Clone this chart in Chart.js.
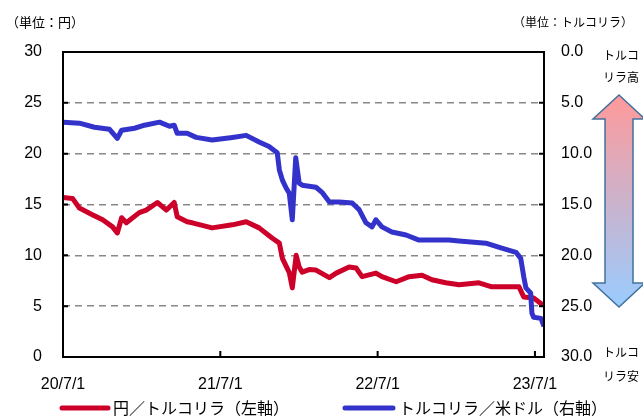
<!DOCTYPE html>
<html lang="ja">
<head>
    <meta charset="UTF-8">
    <title>円/トルコリラ</title>
    <script src="https://cdn.jsdelivr.net/npm/chart.js"></script>
    <style>
        body { margin: 0; background: #fff; }
        #wrap { width: 643px; height: 419px; }
    </style>
</head>
<body>
<div id="wrap"><canvas id="lira" width="643" height="419"></canvas></div>
<script>
    // x tick positions and labels
    const tickDates = ['2020-07-01', '2021-07-01', '2022-07-01', '2023-07-01'];
    const tickLabels = ['20/7/1', '21/7/1', '22/7/1', '23/7/1'];
    const endDate = '2023-07-22';

    // 円/トルコリラ (left axis)
    const jpyDates = ['2020-07-01','2020-07-23','2020-08-08','2020-09-07','2020-10-01','2020-10-24','2020-11-04','2020-11-14',
        '2020-11-25','2020-12-25','2021-01-10','2021-02-05','2021-02-26','2021-03-16','2021-03-23','2021-04-15',
        '2021-04-27','2021-06-12','2021-07-29','2021-08-30','2021-09-29','2021-10-29','2021-11-15','2021-11-22',
        '2021-12-08','2021-12-15','2021-12-24','2021-12-31','2022-01-07','2022-01-23','2022-02-08','2022-03-11',
        '2022-03-27','2022-04-26','2022-05-12','2022-05-26','2022-06-27','2022-07-11','2022-08-13','2022-09-12',
        '2022-10-12','2022-11-04','2022-12-06','2023-01-06','2023-02-21','2023-03-23','2023-05-25','2023-06-05',
        '2023-06-28','2023-07-20'];
    const jpyValues = [15.7, 15.6, 14.65, 14.0, 13.5, 12.8, 12.2, 13.7,
        13.2, 14.2, 14.45, 15.2, 14.45, 15.2, 13.8, 13.3,
        13.2, 12.7, 13.0, 13.3, 12.7, 11.7, 11.2, 9.7,
        8.3, 6.8, 10.0, 8.85, 8.35, 8.6, 8.55, 7.8,
        8.25, 8.85, 8.75, 7.9, 8.25, 7.9, 7.4, 7.9,
        8.05, 7.6, 7.3, 7.1, 7.3, 6.9, 6.9, 5.9,
        5.8, 5.1];

    // トルコリラ/米ドル (right axis, reversed)
    const tryDates = ['2020-07-01','2020-08-08','2020-09-12','2020-10-17','2020-11-04','2020-11-14','2020-12-14','2021-01-06',
        '2021-02-10','2021-03-05','2021-03-16','2021-03-23','2021-04-15','2021-05-06','2021-06-12','2021-07-29',
        '2021-08-30','2021-09-29','2021-10-22','2021-11-10','2021-11-15','2021-11-22','2021-12-01','2021-12-08',
        '2021-12-15','2021-12-23','2021-12-31','2022-01-07','2022-02-08','2022-02-22','2022-03-11','2022-04-03',
        '2022-05-03','2022-05-19','2022-06-04','2022-06-18','2022-06-27','2022-07-11','2022-08-03','2022-09-05',
        '2022-10-05','2022-12-13','2023-01-06','2023-03-09','2023-04-15','2023-05-18','2023-05-29','2023-06-05',
        '2023-06-10','2023-06-21','2023-06-24','2023-06-28','2023-07-15','2023-07-22'];
    const tryValues = [6.9, 7.0, 7.4, 7.6, 8.5, 7.7, 7.5, 7.2,
        6.9, 7.3, 7.2, 8.0, 8.0, 8.4, 8.65, 8.4,
        8.2, 8.85, 9.3, 9.9, 11.6, 12.6, 13.4, 13.9,
        16.5, 10.4, 12.9, 13.1, 13.3, 13.8, 14.75, 14.75,
        14.85, 15.5, 16.8, 17.2, 16.5, 17.2, 17.7, 18.0,
        18.5, 18.5, 18.6, 18.8, 19.3, 19.7, 20.3, 22.1,
        23.2, 23.7, 25.7, 26.1, 26.2, 27.0];

    const DAY = 86400000;
    const base = Date.parse(tickDates[0]);
    const toDay = d => (Date.parse(d) - base) / DAY;
    const pts = (dates, vals) => dates.map((d, i) => ({ x: toDay(d), y: vals[i] }));

    const RED = '#CC0029';
    const BLUE = '#3333CC';
    const numFont = { family: 'Liberation Sans, Arial, sans-serif', size: 16 };
    const jpFont = '"Noto Sans CJK JP", sans-serif';

    const extras = {
        id: 'extras',
        afterDraw(chart) {
            const { ctx, chartArea: a, scales } = chart;
            ctx.save();
            ctx.setLineDash([]);
            ctx.strokeStyle = '#000';
            ctx.lineWidth = 2;
            ctx.beginPath();
            // frame
            ctx.moveTo(a.left, a.bottom);
            ctx.lineTo(a.left, a.top);
            ctx.lineTo(a.right, a.top);
            ctx.lineTo(a.right, a.bottom);
            // inward ticks
            for (let v = 5; v < 30; v += 5) {
                const yl = scales.y.getPixelForValue(v);
                ctx.moveTo(a.left, yl); ctx.lineTo(a.left + 5, yl);
                const yr = scales.y2.getPixelForValue(v);
                ctx.moveTo(a.right, yr); ctx.lineTo(a.right - 5, yr);
            }
            tickDates.slice(1).forEach(d => {
                const x = scales.x.getPixelForValue(toDay(d));
                ctx.moveTo(x, a.bottom); ctx.lineTo(x, a.bottom - 6);
            });
            ctx.stroke();

            // unit labels
            ctx.fillStyle = '#000';
            ctx.textBaseline = 'middle';
            ctx.font = '13px ' + jpFont;
            ctx.textAlign = 'left';
            ctx.fillText('（単位：円）', 6, 22);
            ctx.font = '12px ' + jpFont;
            ctx.textAlign = 'right';
            ctx.fillText('（単位：トルコリラ）', 633, 22);

            // side notes
            ctx.textAlign = 'center';
            ctx.font = '12px ' + jpFont;
            ctx.fillText('トルコ', 621, 55);
            ctx.fillText('リラ高', 621, 77);
            ctx.fillText('トルコ', 621, 352);
            ctx.fillText('リラ安', 621, 376);

            // double arrow
            const cx = 619, top = 95, bot = 307, head = 24, hw = 26, sw = 14;
            const g = ctx.createLinearGradient(0, top, 0, bot);
            g.addColorStop(0, '#FF9999');
            g.addColorStop(1, '#99CCFF');
            ctx.beginPath();
            ctx.moveTo(cx, top);
            ctx.lineTo(cx + hw, top + head);
            ctx.lineTo(cx + sw, top + head);
            ctx.lineTo(cx + sw, bot - head);
            ctx.lineTo(cx + hw, bot - head);
            ctx.lineTo(cx, bot);
            ctx.lineTo(cx - hw, bot - head);
            ctx.lineTo(cx - sw, bot - head);
            ctx.lineTo(cx - sw, top + head);
            ctx.lineTo(cx - hw, top + head);
            ctx.closePath();
            ctx.fillStyle = g;
            ctx.fill();
            ctx.strokeStyle = '#41719C';
            ctx.lineWidth = 1.5;
            ctx.stroke();

            // legend
            const ly = 408;
            ctx.lineWidth = 5;
            ctx.lineCap = 'round';
            ctx.strokeStyle = RED;
            ctx.beginPath(); ctx.moveTo(62, ly); ctx.lineTo(108, ly); ctx.stroke();
            ctx.strokeStyle = BLUE;
            ctx.beginPath(); ctx.moveTo(345, ly); ctx.lineTo(393, ly); ctx.stroke();
            ctx.fillStyle = '#000';
            ctx.textAlign = 'left';
            ctx.font = '16px ' + jpFont;
            ctx.fillText('円／トルコリラ（左軸）', 113, ly);
            ctx.fillText('トルコリラ／米ドル（右軸）', 399, ly);
            ctx.restore();
        }
    };

    const gridColor = c => (c.tick.value === 0 || c.tick.value === 30) ? 'rgba(0,0,0,0)' : '#888';

    new Chart(document.getElementById('lira'), {
        type: 'line',
        data: {
            datasets: [
                { label: 'トルコリラ/米ドル（右軸）', data: pts(tryDates, tryValues), yAxisID: 'y2', order: 0,
                  borderColor: BLUE, borderWidth: 5, pointRadius: 0, tension: 0, borderJoinStyle: 'round' },
                { label: '円/トルコリラ（左軸）', data: pts(jpyDates, jpyValues), yAxisID: 'y', order: 1,
                  borderColor: RED, borderWidth: 5, pointRadius: 0, tension: 0, borderJoinStyle: 'round' }
            ]
        },
        options: {
            responsive: false,
            animation: false,
            devicePixelRatio: 1,
            layout: { padding: { top: 52, left: 0, right: 0, bottom: 0 } },
            plugins: { legend: { display: false }, tooltip: { enabled: false } },
            scales: {
                x: {
                    type: 'linear',
                    min: 0,
                    max: toDay(endDate),
                    afterBuildTicks: s => { s.ticks = tickDates.map(d => ({ value: toDay(d) })); },
                    afterFit: s => { s.height = 62; },
                    grid: { display: false, drawTicks: false },
                    border: { color: '#000', width: 2 },
                    ticks: {
                        color: '#000', font: numFont, padding: 18, maxRotation: 0, autoSkip: false,
                        callback: (v, i) => tickLabels[i]
                    }
                },
                y: {
                    position: 'left',
                    min: 0, max: 30,
                    afterFit: s => { s.width = 63; },
                    grid: { color: gridColor, lineWidth: 1.5, drawTicks: false },
                    border: { display: false, dash: [7, 5] },
                    ticks: { stepSize: 5, color: '#000', font: numFont, padding: 21 }
                },
                y2: {
                    position: 'right',
                    reverse: true,
                    min: 0, max: 30,
                    afterFit: s => { s.width = 99; },
                    grid: { display: false, drawTicks: false },
                    border: { display: false },
                    ticks: { stepSize: 5, color: '#000', font: numFont, padding: 17,
                             callback: v => v.toFixed(1) }
                }
            }
        },
        plugins: [extras]
    });
</script>
</body>
</html>
